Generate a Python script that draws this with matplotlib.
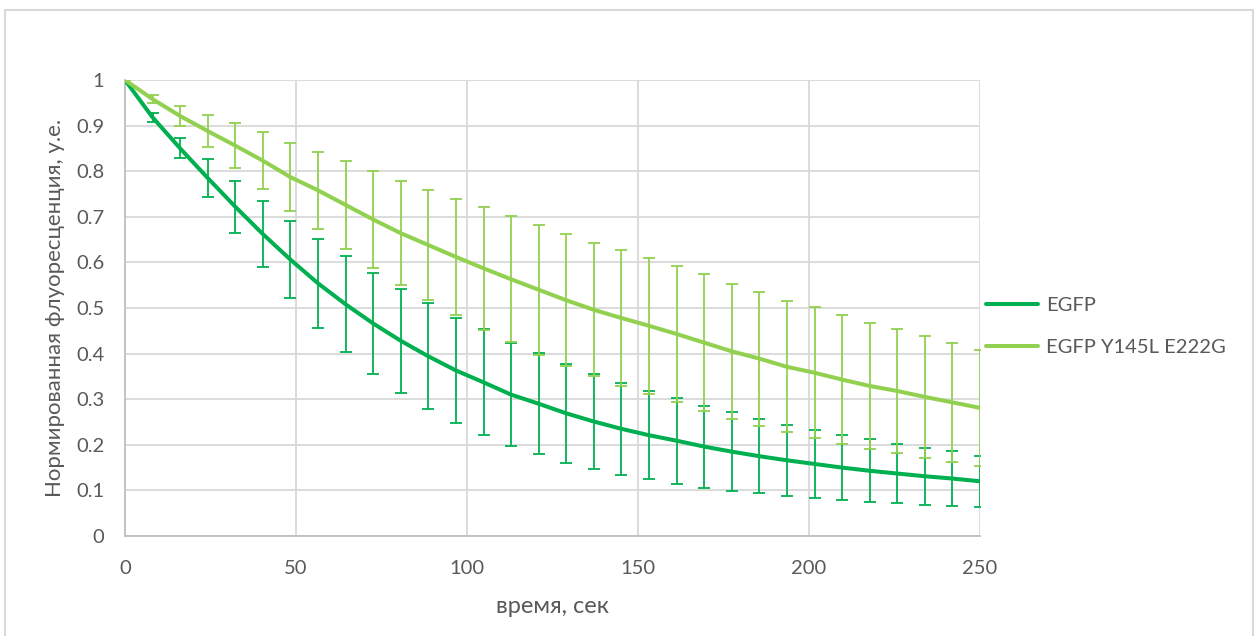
import numpy as np
import matplotlib
matplotlib.use("Agg")
from matplotlib import pyplot as plt
from matplotlib.patches import Rectangle

# time points, 32 samples from 0 to 250 s
time_s = np.linspace(0, 250, 32)

egfp = [1.0, 0.918, 0.850, 0.785, 0.722, 0.662, 0.606, 0.554, 0.508, 0.466,
        0.428, 0.394, 0.363, 0.337, 0.310, 0.290, 0.269, 0.251, 0.235, 0.221,
        0.209, 0.196, 0.185, 0.175, 0.166, 0.158, 0.150, 0.143, 0.137, 0.131,
        0.126, 0.120]
egfp_err = [0.0, 0.010, 0.022, 0.041, 0.057, 0.073, 0.085, 0.097, 0.105, 0.110,
            0.114, 0.116, 0.116, 0.116, 0.113, 0.111, 0.108, 0.104, 0.101, 0.097,
            0.094, 0.090, 0.086, 0.081, 0.078, 0.075, 0.071, 0.069, 0.065, 0.062,
            0.060, 0.056]

mutant = [1.0, 0.958, 0.921, 0.888, 0.856, 0.823, 0.787, 0.758, 0.726, 0.694,
          0.664, 0.638, 0.612, 0.587, 0.563, 0.540, 0.517, 0.496, 0.478, 0.461,
          0.443, 0.424, 0.405, 0.389, 0.371, 0.358, 0.343, 0.329, 0.318, 0.305,
          0.293, 0.281]
mutant_err = [0.0, 0.009, 0.021, 0.036, 0.050, 0.062, 0.074, 0.085, 0.097, 0.107,
              0.114, 0.120, 0.128, 0.135, 0.138, 0.142, 0.145, 0.146, 0.149, 0.149,
              0.149, 0.150, 0.148, 0.147, 0.144, 0.144, 0.141, 0.138, 0.135, 0.133,
              0.130, 0.127]

labels = ["EGFP", "EGFP Y145L E222G"]
colors = ["#00B050", "#92D050"]

plt.rcParams['font.family'] = ['Lato', 'DejaVu Sans']
W, H = 1259, 636
fig = plt.figure(figsize=(W / 100, H / 100), dpi=100)
ax = fig.add_axes([125 / W, 1 - 536 / H, 855 / W, 456 / H])

# outer chart border
fig.patches.append(Rectangle((5 / W, -0.02), 1248 / W, 1 - 10 / H + 0.02,
                             transform=fig.transFigure, fill=False,
                             edgecolor="#D9D9D9", linewidth=1.5))

handles = []
for y, e, c, lab in zip([egfp, mutant], [egfp_err, mutant_err], colors, labels):
    ax.errorbar(time_s, y, yerr=e, fmt='none', ecolor=c, elinewidth=1.3,
                capsize=4.3, capthick=1.3, zorder=3)
    h, = ax.plot(time_s, y, color=c, linewidth=2.9, label=lab, zorder=4,
                 solid_capstyle='round')
    handles.append(h)

ax.set_xlim(0, 250)
ax.set_ylim(0, 1)
ax.set_xticks(range(0, 251, 50))
ax.set_yticks(np.arange(0, 1.01, 0.1))
ax.set_yticklabels(["0", "0.1", "0.2", "0.3", "0.4", "0.5", "0.6", "0.7",
                    "0.8", "0.9", "1"])
ax.grid(True, color="#D9D9D9", linewidth=1.3)
ax.set_axisbelow(True)
for s in ["top", "right"]:
    ax.spines[s].set_visible(False)
for s in ["left", "bottom"]:
    ax.spines[s].set_color("#BFBFBF")
    ax.spines[s].set_linewidth(1.3)
ax.tick_params(length=0, labelsize=14.5, colors="#595959")
ax.tick_params(axis='x', pad=17)
ax.tick_params(axis='y', pad=15)

ax.set_xlabel("время, сек", fontsize=17, color="#595959", labelpad=14)
ax.set_ylabel("Нормированная флуоресценция, у.е.", fontsize=16,
              color="#595959", labelpad=8)

ax.legend(handles=handles, loc='center left',
          bbox_to_anchor=(986 / W, 1 - 326.5 / H), bbox_transform=fig.transFigure,
          frameon=False, fontsize=14.5, borderpad=0, borderaxespad=0,
          handlelength=2.6, handletextpad=0.4, labelspacing=1.2,
          labelcolor="#595959")

fig.savefig("out.png", dpi=100)
